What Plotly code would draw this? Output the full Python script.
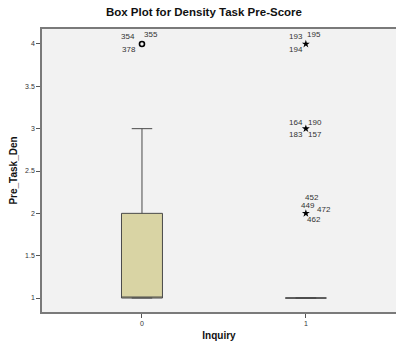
import plotly.graph_objects as go

# ---- data ----
categories = ["0", "1"]
cat_pos = [0, 1]
q1 = [1, 1]
median = [1, 1]
q3 = [2, 1]
lower_whisker = [1, 1]
upper_whisker = [3, 1]

# outliers
outlier_circle_x = [0]
outlier_circle_y = [4]
outlier_star_x = [1, 1, 1]
outlier_star_y = [4, 3, 2]

outlier_labels = [
    # (x, y, text, xshift, yshift)
    (0, 4, "354", -14, 7), (0, 4, "355", 9, 9), (0, 4, "378", -13, -6),
    (1, 4, "193", -10, 7), (1, 4, "195", 8, 9), (1, 4, "194", -10, -6),
    (1, 3, "164", -10, 6), (1, 3, "190", 9, 6), (1, 3, "183", -10, -6), (1, 3, "157", 9, -6),
    (1, 2, "452", 6, 16), (1, 2, "449", 2, 8), (1, 2, "472", 18, 4), (1, 2, "462", 8, -6),
]

y_ticks = [1, 1.5, 2, 2.5, 3, 3.5, 4]
y_tick_text = ["1", "1.5", "2", "2.5", "3", "3.5", "4"]

FONT = "Liberation Sans"

fig = go.Figure()
fig.add_trace(go.Box(
    x=cat_pos, q1=q1, median=median, q3=q3,
    lowerfence=lower_whisker, upperfence=upper_whisker,
    fillcolor="#D9D4A4", line=dict(color="#4a4a4a", width=1),
    width=0.25, whiskerwidth=0.5, boxpoints=False, showlegend=False,
    hoverinfo="skip",
))
fig.add_trace(go.Scatter(
    x=outlier_circle_x, y=outlier_circle_y, mode="markers",
    marker=dict(symbol="circle-open", size=5, color="black", line=dict(width=1.6, color="black")),
    showlegend=False, hoverinfo="skip",
))
fig.add_trace(go.Scatter(
    x=outlier_star_x, y=outlier_star_y, mode="markers",
    marker=dict(symbol="star", size=6, color="black"),
    showlegend=False, hoverinfo="skip",
))

for (x, y, t, dx, dy) in outlier_labels:
    fig.add_annotation(x=x, y=y, xref="x", yref="y", text=t, showarrow=False,
                       xshift=dx, yshift=dy, font=dict(family=FONT, size=8, color="#333333"))

fig.update_layout(
    width=396, height=346,
    margin=dict(l=42, r=0, t=29, b=34),
    paper_bgcolor="white", plot_bgcolor="#F2F2F2",
    title=dict(text="<b>Box Plot for Density Task Pre-Score</b>", x=0.515, xanchor="center",
               y=0.965, yanchor="middle", font=dict(family=FONT, size=11.5, color="#111")),
    font=dict(family=FONT),
)
fig.update_xaxes(
    range=[-0.61, 1.55], tickvals=cat_pos, ticktext=categories,
    showgrid=False, zeroline=False, showline=True, linecolor="#7a7a7a", linewidth=2,
    mirror=True, ticks="outside", ticklen=4, tickcolor="#555",
    tickfont=dict(size=7, color="#333"),
    title=dict(text="<b>Inquiry</b>", font=dict(size=10, color="#111"), standoff=6),
)
fig.update_yaxes(
    range=[0.835, 4.177], tickvals=y_ticks, ticktext=y_tick_text,
    showgrid=False, zeroline=False, showline=True, linecolor="#7a7a7a", linewidth=1.5,
    ticks="outside", ticklen=4, tickcolor="#555",
    tickfont=dict(size=7, color="#333"),
    title=dict(text="<b>Pre_Task_Den</b>", font=dict(size=10, color="#111"), standoff=6),
)

fig.write_html("out.html")
